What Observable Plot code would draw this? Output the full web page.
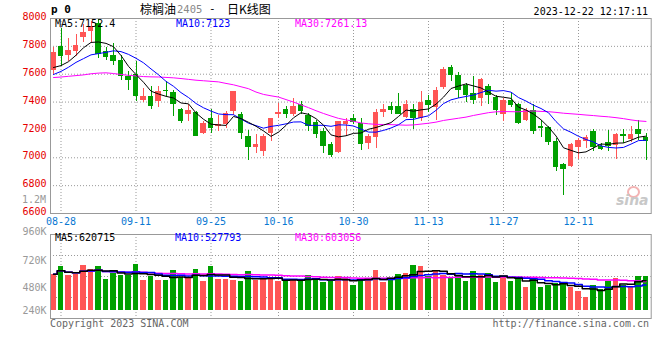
<!DOCTYPE html>
<html><head><meta charset="utf-8">
<script src="https://cdn.jsdelivr.net/npm/d3@7"></script>
<script src="https://cdn.jsdelivr.net/npm/@observablehq/plot@0.6"></script>
<style>
body{margin:0;background:#fff;}
#chart{position:relative;width:660px;height:360px;overflow:hidden;font-family:"DejaVu Sans Mono",monospace;}
#chart .t{position:absolute;white-space:pre;font-size:10px;line-height:10px;}
#price,#vol{position:absolute;left:0;}
#price{top:0px}
#vol{top:222px}
</style></head><body>
<div id="chart">
<div id="price"></div><div id="vol"></div>
</div>
<script>
// ---- data ----
const dates = ["08-25","08-28","08-29","08-30","08-31","09-01","09-04","09-05","09-06","09-07","09-08",
"09-11","09-12","09-13","09-14","09-15","09-18","09-19","09-20","09-21","09-22",
"09-25","09-26","09-27","09-28","10-09","10-10","10-11","10-12","10-13",
"10-16","10-17","10-18","10-19","10-20","10-23","10-24","10-25","10-26","10-27",
"10-30","10-31","11-01","11-02","11-03","11-06","11-07","11-08","11-09","11-10",
"11-13","11-14","11-15","11-16","11-17","11-20","11-21","11-22","11-23","11-24",
"11-27","11-28","11-29","11-30","12-01","12-04","12-05","12-06","12-07","12-08",
"12-11","12-12","12-13","12-14","12-15","12-18","12-19","12-20","12-21","12-22"];
const opens = [7625,7800,7731,7760,7867,7905,7965,7764,7731,7700,
7586,7598,7414,7443,7407,7486,7469,7350,7312,7326,
7171,7279,7224,7236,7331,7314,7152,7074,7045,7176,
7312,7348,7314,7379,7302,7252,7188,7093,7038,7240,
7283,7248,7105,7145,7324,7367,7367,7290,7350,7279,
7414,7360,7502,7645,7593,7517,7462,7426,7514,7433,
7312,7414,7379,7271,7343,7224,7217,7117,6955,6938,
7074,7117,7188,7081,7110,7088,7169,7129,7200,7145];
const highs = [7790,7930,7855,7886,7957,7980,7995,7795,7819,7736,
7617,7688,7498,7510,7510,7545,7486,7355,7379,7330,
7260,7348,7307,7331,7479,7326,7193,7164,7164,7283,
7393,7367,7426,7407,7319,7271,7212,7112,7264,7283,
7314,7283,7169,7350,7383,7398,7462,7414,7383,7479,
7450,7502,7645,7664,7612,7533,7581,7569,7526,7450,
7426,7469,7390,7355,7383,7271,7224,7136,6962,7105,
7136,7160,7200,7105,7193,7176,7200,7224,7271,7176];
const lows = [7595,7655,7688,7724,7831,7831,7712,7700,7660,7557,
7480,7407,7398,7350,7360,7438,7295,7248,7260,7150,
7164,7171,7188,7207,7307,7129,6981,7033,7010,7117,
7283,7283,7300,7314,7188,7140,7033,7002,7033,7152,
7240,7050,7057,7067,7288,7312,7312,7283,7200,7264,
7326,7271,7493,7545,7426,7398,7379,7367,7379,7307,
7262,7360,7236,7260,7169,7145,7088,6898,6731,6931,
6988,7067,7045,7050,7045,6990,7105,7112,7121,6981];
const closes = [7755,7724,7767,7807,7898,7945,7740,7717,7688,7581,
7557,7443,7443,7367,7479,7474,7383,7264,7336,7152,
7248,7207,7236,7319,7474,7171,7074,7093,7152,7279,
7324,7314,7367,7331,7224,7169,7081,7017,7260,7264,
7255,7093,7152,7324,7350,7343,7314,7383,7283,7398,
7374,7486,7636,7593,7486,7450,7414,7564,7445,7336,
7414,7374,7248,7343,7188,7212,7110,6931,6919,7093,
7124,7145,7074,7057,7081,7169,7152,7169,7169,7117];
const volumes = [611000,675000,602000,611000,689000,655000,675000,567000,622000,596000,
602000,698000,559000,593000,559000,559000,646000,582000,573000,655000,
550000,681000,567000,567000,559000,544000,631000,559000,567000,573000,
552000,547000,567000,559000,602000,559000,535000,545000,593000,582000,
515000,573000,559000,646000,535000,573000,611000,622000,689000,681000,
588000,631000,602000,573000,602000,544000,631000,602000,622000,535000,
593000,552000,582000,495000,567000,492000,509000,530000,541000,492000,
456000,404000,515000,477000,544000,573000,515000,506000,593000,588000];
// MA values before the window is full
const ma5Head = [7648,7662,7690,7736];
const ma10Head = [7598,7620,7650,7685,7712,7739,7748,7757,7768];
const ma30 = [7576,7580,7585,7590,7595,7603,7608,7610,7605,7598,
7592,7588,7583,7581,7580,7577,7574,7569,7563,7557,
7553,7549,7545,7534,7524,7510,7496,7472,7455,7445,
7436,7418,7400,7380,7360,7338,7318,7300,7283,7272,
7262,7250,7244,7240,7239,7238,7236,7234,7236,7242,
7248,7256,7268,7276,7284,7292,7304,7314,7324,7330,
7332,7331,7330,7335,7336,7333,7331,7326,7320,7316,
7312,7307,7303,7298,7294,7288,7281,7272,7265,7261];
const tickLabels = ["08-28","09-11","09-25","10-16","10-30","11-13","11-27","12-11"];
const priceTicks = [6600,6800,7000,7200,7400,7600,7800,8000];
const volTickValues = [960000,720000,480000,240000];
const volTickLabels = ["960K","720K","480K","240K"];
const volBase = 290000;
const priceLabels = ["MA5:7152.4","MA10:7123","MA30:7261.13"];
const volLabels = ["MA5:620715","MA10:527793","MA30:603056"];

// ---- derived table ----
const UP = "#ff5555", DOWN = "#00a000";
const movAvg = (vals, k, head) => vals.map((_, i) => i >= k - 1 ? d3.mean(vals.slice(i - k + 1, i + 1)) : (head ? head[i] : d3.mean(vals.slice(0, i + 1))));
const ma5 = movAvg(closes, 5, ma5Head), ma10 = movAvg(closes, 10, ma10Head);
const vma5 = movAvg(volumes, 5), vma10 = movAvg(volumes, 10), vma30 = movAvg(volumes, 30);
const data = dates.map((d, i) => ({i, date: d, open: opens[i], high: highs[i], low: lows[i], close: closes[i],
  vol: volumes[i], ma5: ma5[i], ma10: ma10[i], ma30: ma30[i], vma5: vma5[i], vma10: vma10[i], vma30: vma30[i],
  color: closes[i] >= opens[i] ? UP : DOWN}));
const tickIdx = tickLabels.map(t => dates.indexOf(t));
const xScale = {type: "linear", domain: [-0.5, dates.length - 0.5], range: [49.25, 649.25]};
const grid = {stroke: "#999", strokeDasharray: "1,2", strokeWidth: 1};
const baseStyle = {fontFamily: "DejaVu Sans Mono, monospace", fontSize: "10px", background: "transparent", overflow: "visible"};

const price = Plot.plot({
  width: 660, height: 230, marginTop: 18, marginBottom: 17, marginLeft: 50, marginRight: 9.3,
  style: baseStyle,
  x: xScale,
  y: {domain: [6600, 8000]},
  marks: [
    Plot.ruleY(priceTicks.slice(1, -1), grid),
    Plot.ruleX(tickIdx, grid),
    Plot.ruleX(data, {x: "i", y1: "low", y2: "high", stroke: "color", shapeRendering: "crispEdges"}),
    Plot.rectY(data, {x1: d => d.i - 0.39, x2: d => d.i + 0.39, y1: "open", y2: "close", fill: "color", shapeRendering: "crispEdges"}),
    Plot.line(data, {x: "i", y: "ma30", stroke: "#ff00ff", strokeWidth: 1}),
    Plot.line(data, {x: "i", y: "ma10", stroke: "#0000ff", strokeWidth: 1}),
    Plot.line(data, {x: "i", y: "ma5", stroke: "#000", strokeWidth: 1}),
    Plot.frame({stroke: "#999"}),
    Plot.axisY(priceTicks, {tickSize: 0, tickPadding: 4, color: "#e60000", dy: -1.5, label: null, tickFormat: d3.format("d")}),
    Plot.axisX(tickIdx, {tickSize: 0, tickPadding: 4, tickFormat: i => dates[i], color: "#0a78d2", label: null})
  ]
});
document.getElementById("price").appendChild(price);

const vd = [960000, 223000];
const volGrid = d3.range(1, 4).map(k => vd[0] - k * (vd[0] - vd[1]) / 4);
const vol = Plot.plot({
  width: 660, height: 100, marginTop: 12, marginBottom: 4, marginLeft: 50, marginRight: 9.3,
  style: baseStyle,
  x: {...xScale, axis: null},
  y: {domain: [vd[1], vd[0]], axis: null},
  marks: [
    Plot.ruleY(volGrid, grid),
    Plot.ruleX(tickIdx, grid),
    Plot.rectY(data, {x1: d => d.i - 0.39, x2: d => d.i + 0.39, y1: volBase, y2: "vol", fill: "color", shapeRendering: "crispEdges"}),
    Plot.line(data, {x: "i", y: "vma30", stroke: "#ff00ff", curve: "step"}),
    Plot.line(data, {x: "i", y: "vma10", stroke: "#0000ff", curve: "step"}),
    Plot.line(data, {x: "i", y: "vma5", stroke: "#000", curve: "step"}),
    Plot.frame({stroke: "#999"}),
    Plot.text(volTickValues.slice(0, 1), {y: d => d, text: () => volTickLabels[0], frameAnchor: "left", textAnchor: "end", dx: -4, dy: -3, fill: "#999"}),
    Plot.text(volTickValues.slice(1, 3), {y: d => d, text: d => volTickLabels[volTickValues.indexOf(d)], frameAnchor: "left", textAnchor: "end", dx: -4, dy: -1, fill: "#999"}),
    Plot.text(volTickValues.slice(3), {y: d => d, text: () => volTickLabels[3], frameAnchor: "left", textAnchor: "end", dx: -4, dy: -6, fill: "#999"})
  ]
});
document.getElementById("vol").appendChild(vol);

// ---- text overlays ----
const chart = document.getElementById("chart");
function addText(txt, css) {
  const s = document.createElement("span");
  s.className = "t"; s.textContent = txt;
  Object.assign(s.style, css);
  chart.appendChild(s);
  return s;
}
addText("p 0", {left: "51px", top: "4px", fontSize: "11px", lineHeight: "11px", fontWeight: "bold", color: "#000"});
addText("棕榈油", {left: "140px", top: "0px", fontFamily: "Noto Sans CJK SC", fontSize: "12px", lineHeight: "17.4px", color: "#000"});
addText("2405", {left: "177px", top: "4px", fontSize: "10.5px", lineHeight: "10px", color: "#888"});
addText("-", {left: "209px", top: "4px", fontSize: "11px", lineHeight: "10px", color: "#000"});
addText("日K线图", {left: "227px", top: "0px", fontFamily: "Noto Sans CJK SC", fontSize: "12px", lineHeight: "17.4px", color: "#000"});
addText("2023-12-22 12:17:11", {right: "12px", top: "7px", color: "#000"});
addText(priceLabels[0], {left: "55px", top: "18.5px", color: "#000"});
addText(priceLabels[1], {left: "176px", top: "18.5px", color: "#0000ff"});
addText(priceLabels[2], {left: "295px", top: "18.5px", color: "#ff00ff"});
addText(volLabels[0], {left: "55px", top: "233px", color: "#000"});
addText(volLabels[1], {left: "175px", top: "233px", color: "#0000ff"});
addText(volLabels[2], {left: "295px", top: "233px", color: "#ff00ff"});
addText("1.2M", {right: "614px", top: "195px", color: "#999"});
addText("Copyright 2023 SINA.COM", {left: "50px", top: "319px", color: "#666"});
addText("http://finance.sina.com.cn", {right: "11px", top: "319px", color: "#666"});
// sina watermark
const eye = document.createElement("div");
Object.assign(eye.style, {position: "absolute", left: "627px", top: "186px", width: "9px", height: "8px", border: "2px solid #f3b3b3", borderRadius: "50%"});
chart.appendChild(eye);
addText("sina", {left: "616px", top: "193px", fontFamily: "DejaVu Sans", fontStyle: "italic", fontWeight: "bold", fontSize: "14px", lineHeight: "14px", color: "#c8c8c8"});
</script>
</body></html>
